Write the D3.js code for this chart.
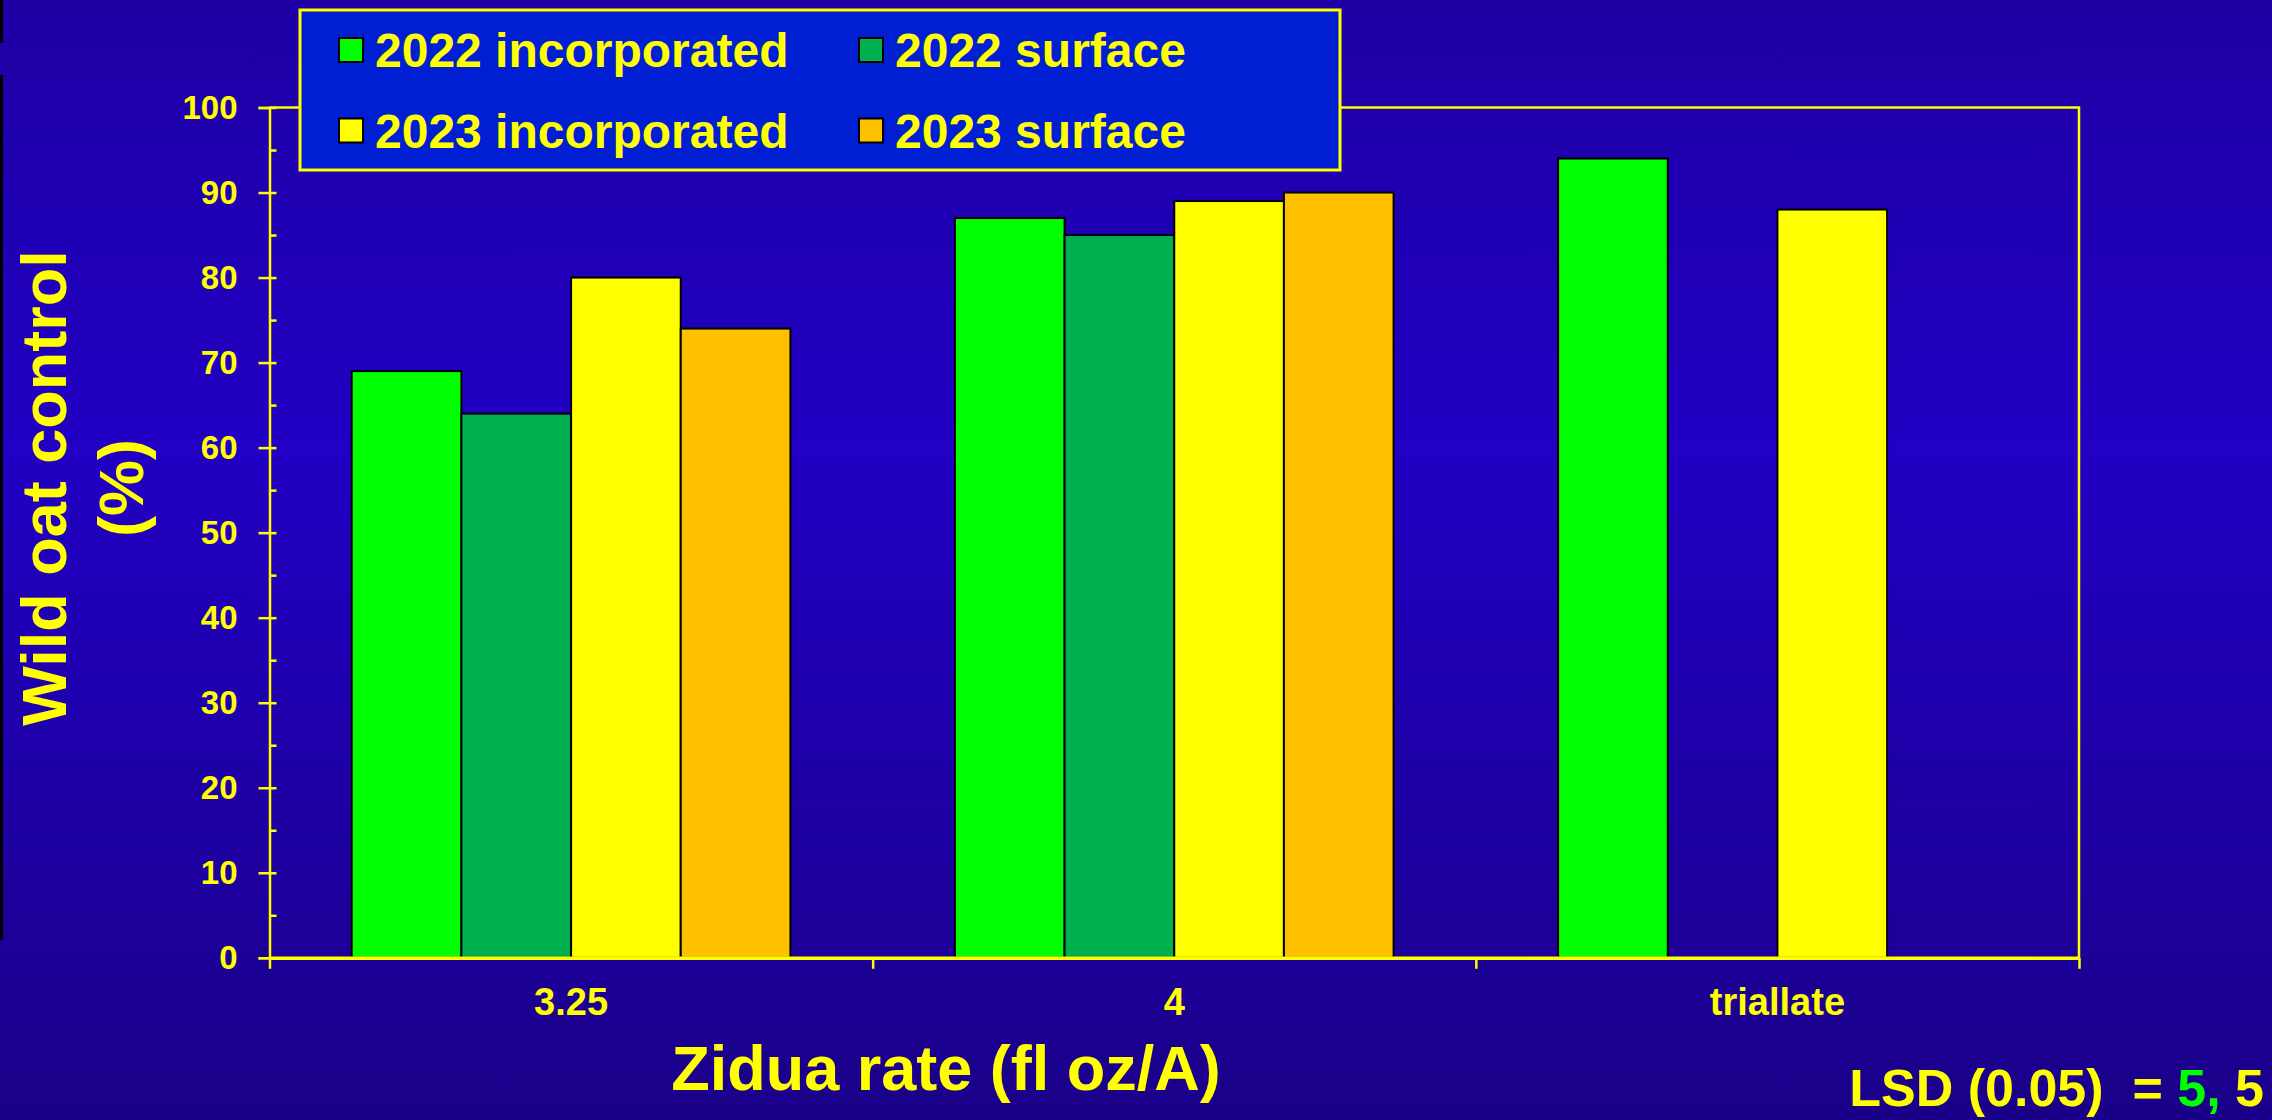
<!DOCTYPE html>
<html>
<head>
<meta charset="utf-8">
<script src="https://cdn.jsdelivr.net/npm/d3@7"></script>
<style>
  html, body { margin: 0; padding: 0; overflow: hidden; }
  svg { display: block; }
  text { font-family: "Liberation Sans", Arial, sans-serif; font-weight: bold; fill: #ffff00; }
</style>
</head>
<body>
<script>
const categories = ["3.25", "4", "triallate"]
const seriesNames = ["2022 incorporated", "2022 surface", "2023 incorporated", "2023 surface"]
const inc2022 = [69, 87, 94]
const surf2022 = [64, 85, null]
const inc2023 = [80, 89, 88]
const surf2023 = [74, 90, null]
const colors = ["#00ff00", "#00b050", "#ffff00", "#ffc000"]
const yTickValues = [0, 10, 20, 30, 40, 50, 60, 70, 80, 90, 100]

const seriesValues = [inc2022, surf2022, inc2023, surf2023]

const width = 2272
const height = 1120
const plot = {left: 269.5, right: 2079, top: 107.5, bottom: 957.8}

const svg = d3.select('body').append('svg')
  .attr('width', width)
  .attr('height', height)

// background gradient
const defs = svg.append('defs')
const grad = defs.append('linearGradient')
  .attr('id', 'bg')
  .attr('x1', 0).attr('y1', 0).attr('x2', 0).attr('y2', 1)
grad.append('stop').attr('offset', '0%').attr('stop-color', '#1e00a4')
grad.append('stop').attr('offset', '40%').attr('stop-color', '#2200c4')
grad.append('stop').attr('offset', '100%').attr('stop-color', '#1a0088')

svg.append('rect')
  .attr('width', width)
  .attr('height', height)
  .attr('fill', 'url(#bg)')

// slide edge artifact
svg.append('rect').attr('x', 0).attr('y', 0).attr('width', 3).attr('height', 43).attr('fill', '#000')
svg.append('rect').attr('x', 0).attr('y', 75).attr('width', 3).attr('height', 865).attr('fill', '#000')

const xScale = d3.scaleBand()
  .domain(categories)
  .range([plot.left, plot.right])

const xInner = d3.scaleBand()
  .domain(seriesNames)
  .range([0, xScale.bandwidth()])
  .paddingOuter(0.75)

const yScale = d3.scaleLinear()
  .domain([0, 100])
  .range([plot.bottom, plot.top])

// plot frame (top and right)
svg.append('path')
  .attr('d', `M${plot.left},${plot.top}H${plot.right}V${plot.bottom}`)
  .attr('fill', 'none')
  .attr('stroke', '#ffff00')
  .attr('stroke-width', 2.5)

// bars
const rows = []
seriesNames.forEach((s, i) => {
  categories.forEach((c, j) => {
    if (seriesValues[i][j] != null) rows.push({series: s, cat: c, value: seriesValues[i][j], color: colors[i]})
  })
})

svg.append('g').selectAll('rect')
  .data(rows)
  .join('rect')
  .attr('x', d => xScale(d.cat) + xInner(d.series))
  .attr('y', d => yScale(d.value))
  .attr('width', xInner.bandwidth())
  .attr('height', d => yScale(0) - yScale(d.value))
  .attr('fill', d => d.color)
  .attr('stroke', '#000')
  .attr('stroke-width', 2)

// y axis: labels + outer ticks
const yAxis = d3.axisLeft(yScale)
  .tickValues(yTickValues)
  .tickSize(11)
  .tickPadding(21)

const yAxisGroup = svg.append('g')
  .attr('transform', `translate(${plot.left},0)`)
  .call(yAxis)
yAxisGroup.select('.domain').attr('stroke', '#ffff00').attr('stroke-width', 2.5)
yAxisGroup.selectAll('.tick line').attr('stroke', '#ffff00').attr('stroke-width', 2.5)
yAxisGroup.selectAll('.tick text')
  .attr('fill', '#ffff00')
  .style('font-size', '33px')
  .style('font-family', '"Liberation Sans", Arial, sans-serif')
  .style('font-weight', 'bold')

// inner ticks every 5
const yInner = d3.axisRight(yScale)
  .tickValues(d3.range(0, 101, 5))
  .tickSize(7)
  .tickFormat('')
const yInnerGroup = svg.append('g')
  .attr('transform', `translate(${plot.left},0)`)
  .call(yInner)
yInnerGroup.select('.domain').remove()
yInnerGroup.selectAll('.tick line').attr('stroke', '#ffff00').attr('stroke-width', 2.5)

// x axis: tick marks at category boundaries
const xEdge = d3.scaleLinear().domain([0, categories.length]).range([plot.left, plot.right])
const xEdgeAxis = d3.axisBottom(xEdge)
  .tickValues(d3.range(0, categories.length + 1))
  .tickSize(11)
  .tickSizeOuter(0)
  .tickFormat('')
const xEdgeGroup = svg.append('g')
  .attr('transform', `translate(0,${plot.bottom})`)
  .call(xEdgeAxis)
xEdgeGroup.select('.domain').attr('stroke', '#ffff00').attr('stroke-width', 3.5)
xEdgeGroup.selectAll('.tick line').attr('stroke', '#ffff00').attr('stroke-width', 2.5)

// x axis labels
const xAxisGroup = svg.append('g')
  .attr('transform', `translate(0,${plot.bottom})`)
  .call(d3.axisBottom(xScale).tickSize(0).tickPadding(30))
xAxisGroup.select('.domain').remove()
xAxisGroup.selectAll('.tick text')
  .attr('fill', '#ffff00')
  .style('font-size', '38px')
  .style('font-family', '"Liberation Sans", Arial, sans-serif')
  .style('font-weight', 'bold')

// axis titles
svg.append('text')
  .attr('transform', 'translate(66,488) rotate(-90)')
  .attr('text-anchor', 'middle')
  .style('font-size', '63px')
  .text('Wild oat control')
svg.append('text')
  .attr('transform', 'translate(143,488) rotate(-90)')
  .attr('text-anchor', 'middle')
  .style('font-size', '63px')
  .text('(%)')

svg.append('text')
  .attr('x', 946)
  .attr('y', 1090)
  .attr('text-anchor', 'middle')
  .style('font-size', '63px')
  .text('Zidua rate (fl oz/A)')

// LSD note
const lsd = svg.append('text')
  .attr('x', 2264)
  .attr('y', 1106)
  .attr('text-anchor', 'end')
  .attr('xml:space', 'preserve')
  .style('font-size', '52px')
  .style('white-space', 'pre')
lsd.append('tspan').text('LSD (0.05)  = ')
lsd.append('tspan').style('fill', '#00ff00').text('5,')
lsd.append('tspan').text(' 5')

// legend
const legend = svg.append('g')
legend.append('rect')
  .attr('x', 300)
  .attr('y', 10)
  .attr('width', 1040)
  .attr('height', 160)
  .attr('fill', '#001ed2')
  .attr('stroke', '#ffff00')
  .attr('stroke-width', 3)

const legendItems = legend.selectAll('g.item')
  .data(seriesNames)
  .join('g')
  .attr('class', 'item')
  .attr('transform', (d, i) => `translate(${i % 2 === 0 ? 339 : 859},${i < 2 ? 50 : 130.5})`)

legendItems.append('rect')
  .attr('x', 0)
  .attr('y', -12)
  .attr('width', 24)
  .attr('height', 24)
  .attr('fill', (d, i) => colors[i])
  .attr('stroke', '#000')
  .attr('stroke-width', 2)

legendItems.append('text')
  .attr('x', 36)
  .attr('y', 17)
  .style('font-size', '48px')
  .text(d => d)
</script>
</body>
</html>
